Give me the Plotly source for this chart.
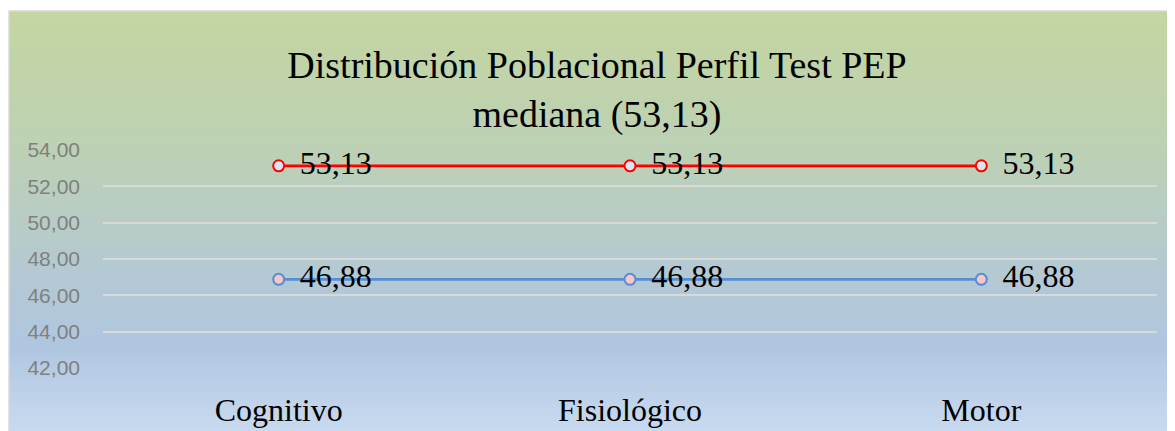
import plotly.graph_objects as go

categorias = ["Cognitivo", "Fisiológico", "Motor"]
serie_alta = [53.13, 53.13, 53.13]
serie_baja = [46.88, 46.88, 46.88]
titulo = "Distribución Poblacional Perfil Test PEP<br>mediana (53,13)"

W, H = 1175, 431
OFF = 8  # page body margin
ML, MR, MT, MB = 103 - OFF, 26, 150 - OFF, 71
pw, ph = W - ML - MR, H - MT - MB
SERIF = "Times New Roman, Liberation Serif, serif"


def px_x(x):
    return (x - OFF - ML) / pw


def px_y(y):
    return (H - MB - (y - OFF)) / ph


# gradient stops (fraction from top, rgb)
stops = [(0.0, (196, 214, 160)), (0.35, (188, 208, 182)),
         (0.62, (180, 201, 210)), (0.8, (176, 198, 224)), (1.0, (200, 218, 240))]


def col_at(t):
    for (a, ca), (b, cb) in zip(stops[:-1], stops[1:]):
        if a <= t <= b:
            f = (t - a) / (b - a)
            c = [round(ca[i] + (cb[i] - ca[i]) * f) for i in range(3)]
            return "rgb(%d,%d,%d)" % tuple(c)
    return "rgb(200,218,240)"


shapes = []
top, bot = 11, H
n = 140
step = (bot - top) / n
for i in range(n):
    y0 = top + i * step
    y1 = y0 + step + 0.6
    shapes.append(dict(type="rect", xref="paper", yref="paper", layer="below",
                       x0=px_x(9), x1=px_x(W + 20), y0=px_y(y1 if i < n - 1 else bot + 20), y1=px_y(y0),
                       fillcolor=col_at((i + 0.5) / n), line_width=0))
shapes.append(dict(type="rect", xref="paper", yref="paper", layer="below",
                   x0=px_x(9), x1=px_x(W + 20), y0=px_y(H + 20), y1=px_y(11),
                   fillcolor="rgba(0,0,0,0)", line=dict(color="#d9d9d9", width=1.5)))

pad = "\u00a0\u2006"
fig = go.Figure()
fig.add_trace(go.Scatter(
    x=categorias, y=serie_alta, mode="lines+markers+text",
    text=[pad + f"{v:.2f}".replace(".", ",") for v in serie_alta],
    textposition="middle right",
    textfont=dict(family=SERIF, size=32, color="black"),
    line=dict(color="#ff0000", width=2.8),
    marker=dict(size=11, color="#dce6f4", line=dict(color="#ff0000", width=2)),
    cliponaxis=False, hoverinfo="skip"))
fig.add_trace(go.Scatter(
    x=categorias, y=serie_baja, mode="lines+markers+text",
    text=[pad + f"{v:.2f}".replace(".", ",") for v in serie_baja],
    textposition="middle right",
    textfont=dict(family=SERIF, size=32, color="black"),
    line=dict(color="#558ed5", width=2.8),
    marker=dict(size=11, color="#f8c6c6", line=dict(color="#558ed5", width=2)),
    cliponaxis=False, hoverinfo="skip"))

fig.update_layout(
    width=W, height=H,
    margin=dict(l=ML, r=MR, t=MT, b=MB),
    paper_bgcolor="white", plot_bgcolor="rgba(0,0,0,0)",
    showlegend=False,
    separators=",.",
    shapes=shapes,
    title=dict(text=titulo, x=px_x(597), xref="paper", xanchor="center",
               y=1 - (78 - OFF) / H, yanchor="middle",
               font=dict(family=SERIF, size=38, color="black")),
    xaxis=dict(range=[-0.5, 2.5], showgrid=False, zeroline=False, showline=False,
               ticks="", ticklabelstandoff=20,
               tickfont=dict(family=SERIF, size=32, color="black")),
    yaxis=dict(range=[42, 54], dtick=2, tickformat=".2f", showgrid=True,
               gridcolor="#d9d9d9", gridwidth=2, zeroline=False, showline=False,
               ticks="", ticklabelstandoff=22,
               tickfont=dict(family="Liberation Sans", size=21, color="#808080")),
)

fig.write_html("out.html")
